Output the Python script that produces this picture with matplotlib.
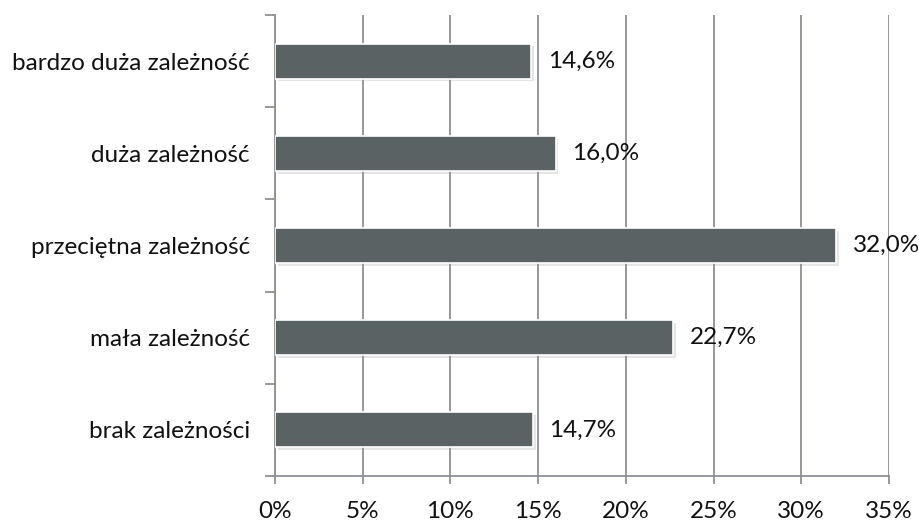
"""Horizontal bar chart of dependency levels (share of responses)."""

import matplotlib

matplotlib.use("Agg")
import matplotlib.patheffects as pe
import matplotlib.pyplot as plt
from matplotlib.ticker import FuncFormatter, MultipleLocator

CATEGORIES = [
    "bardzo duża zależność",
    "duża zależność",
    "przeciętna zależność",
    "mała zależność",
    "brak zależności",
]
VALUES = [14.6, 16.0, 32.0, 22.7, 14.7]
X_MAX = 35

BAR_COLOR = "#5b6264"
GRID_COLOR = "#8c9094"
TEXT_COLOR = "#111111"
FONT_SIZE = 17.5

plt.rcParams["font.family"] = ["Lato", "DejaVu Sans"]

fig = plt.figure(figsize=(9.2, 5.27), dpi=100)
ax = fig.add_axes([0.2989, 0.0968, 0.6674, 0.8747])

positions = list(range(len(CATEGORIES)))[::-1]
bars = ax.barh(
    positions,
    VALUES,
    height=0.38,
    color=BAR_COLOR,
    edgecolor="white",
    linewidth=1.2,
    zorder=3,
)
for bar in bars:
    bar.set_path_effects(
        [pe.SimplePatchShadow(offset=(2, -2), shadow_rgbFace="#999999", alpha=0.25), pe.Normal()]
    )

# Value labels to the right of each bar
for pos, val in zip(positions, VALUES):
    ax.annotate(
        f"{val:.1f}%".replace(".", ","),
        xy=(val, pos),
        xytext=(12, 0),
        textcoords="offset points",
        va="center",
        ha="left",
        fontsize=FONT_SIZE,
        color=TEXT_COLOR,
        zorder=4,
    )

ax.set_xlim(0, X_MAX)
ax.set_ylim(-0.5, len(CATEGORIES) - 0.5)

ax.xaxis.set_major_locator(MultipleLocator(5))
ax.xaxis.set_major_formatter(FuncFormatter(lambda v, _: f"{v:.0f}%"))
ax.grid(axis="x", color=GRID_COLOR, linewidth=1.3, zorder=0)
ax.set_axisbelow(True)

# Category labels centred, separator ticks between categories
ax.set_yticks([p + 0.5 for p in range(-1, len(CATEGORIES))])
ax.set_yticklabels([])
ax.set_yticks(positions, minor=True)
ax.set_yticklabels(CATEGORIES, minor=True, fontsize=FONT_SIZE, color=TEXT_COLOR)
ax.tick_params(axis="y", which="minor", length=0, pad=18)
ax.tick_params(axis="y", which="major", length=7, width=1.3, color=GRID_COLOR)
ax.tick_params(
    axis="x",
    length=6,
    width=1.3,
    color=GRID_COLOR,
    pad=12,
    labelsize=FONT_SIZE,
    labelcolor=TEXT_COLOR,
)

for side in ("top", "right"):
    ax.spines[side].set_visible(False)
for side in ("left", "bottom"):
    ax.spines[side].set_color(GRID_COLOR)
    ax.spines[side].set_linewidth(1.3)

fig.savefig("out.png", dpi=100)
